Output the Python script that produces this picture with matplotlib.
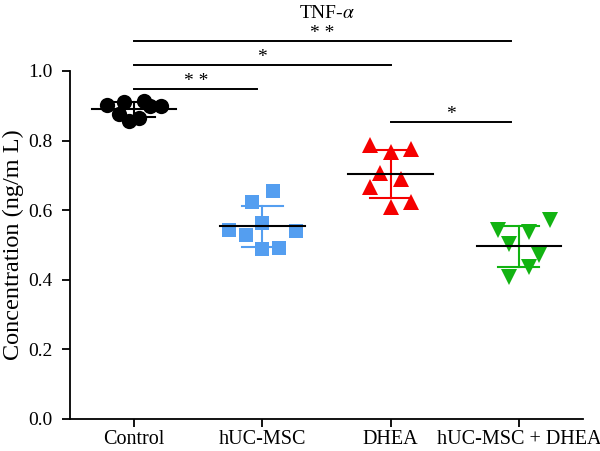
import matplotlib
matplotlib.use("Agg")
import matplotlib.pyplot as plt
import numpy as np

plt.rcParams['font.family'] = ['Liberation Serif', 'DejaVu Serif']
plt.rcParams['mathtext.fontset'] = 'stix'

groups = ['Control', 'hUC-MSC', 'DHEA', 'hUC-MSC + DHEA']
colors = ['#000000', '#549ef0', '#f50000', '#12b312']
markers = ['o', 's', '^', 'v']

# values (ng/mL)
control = [0.902, 0.911, 0.876, 0.856, 0.865, 0.914, 0.899, 0.899]
huc_msc = [0.543, 0.529, 0.624, 0.655, 0.563, 0.540, 0.489, 0.491]
dhea = [0.787, 0.767, 0.776, 0.707, 0.690, 0.667, 0.609, 0.624]
combo = [0.543, 0.537, 0.572, 0.503, 0.471, 0.437, 0.408]

# horizontal scatter offsets of each point
control_dx = [-0.21, -0.08, -0.12, -0.04, 0.04, 0.08, 0.12, 0.21]
huc_msc_dx = [-0.26, -0.13, -0.08, 0.08, 0.0, 0.26, 0.0, 0.13]
dhea_dx = [-0.16, 0.0, 0.16, -0.08, 0.08, -0.16, 0.0, 0.16]
combo_dx = [-0.16, 0.08, 0.24, -0.08, 0.16, 0.08, -0.08]

# significance brackets: (x1, x2, y, label)
brackets = [(0, 0.96, 0.948, '* *'), (0, 2.0, 1.017, '*'),
            (0, 2.94, 1.086, '* *'), (2.0, 2.94, 0.853, '*')]

data = [control, huc_msc, dhea, combo]
offsets = [control_dx, huc_msc_dx, dhea_dx, combo_dx]
sizes = [11, 9.5, 11, 11]

fig = plt.figure(figsize=(6, 4.51), dpi=100)
ax = fig.add_axes([0.1167, 0.071, 0.855, 0.7716])

for i, (vals, dx) in enumerate(zip(data, offsets)):
    vals = np.array(vals)
    m = vals.mean()
    sd = vals.std(ddof=1)
    ax.plot(i + np.array(dx), vals, linestyle='none', marker=markers[i],
            color=colors[i], markersize=sizes[i], markeredgewidth=0, zorder=2)
    # SD bar
    ax.plot([i, i], [m - sd, m + sd], color=colors[i], lw=1.5, zorder=3)
    ax.plot([i - 0.16, i + 0.16], [m + sd, m + sd], color=colors[i], lw=1.5, zorder=3)
    ax.plot([i - 0.16, i + 0.16], [m - sd, m - sd], color=colors[i], lw=1.5, zorder=3)
    # mean line
    ax.plot([i - 0.33, i + 0.33], [m, m], color='black', lw=1.5, zorder=4)

for x1, x2, y, lab in brackets:
    ax.plot([x1, x2], [y, y], color='black', lw=1.4, clip_on=False)
    ax.text((x1 + x2) / 2, y + 0.008, lab, ha='center', va='baseline',
            fontsize=14, clip_on=False)

ax.text(1.5, 1.165, 'TNF-$\\alpha$', ha='center', va='center', fontsize=14)

ax.set_xlim(-0.5, 3.5)
ax.set_ylim(0, 1.0)
ax.set_yticks([0, 0.2, 0.4, 0.6, 0.8, 1.0])
ax.set_yticklabels(['0.0', '0.2', '0.4', '0.6', '0.8', '1.0'])
ax.set_xticks(range(4))
ax.set_xticklabels(groups)
ax.tick_params(labelsize=14, width=1.3, length=5.5)
ax.tick_params(axis='x', labelsize=14.5, pad=2.5)
ax.tick_params(axis='y', pad=7)
ax.set_ylabel('Concentration (ng/m L)', fontsize=17.5, labelpad=3)
ax.spines['top'].set_visible(False)
ax.spines['right'].set_visible(False)
ax.spines['left'].set_linewidth(1.3)
ax.spines['bottom'].set_linewidth(1.3)

fig.savefig('out.png', dpi=100)
